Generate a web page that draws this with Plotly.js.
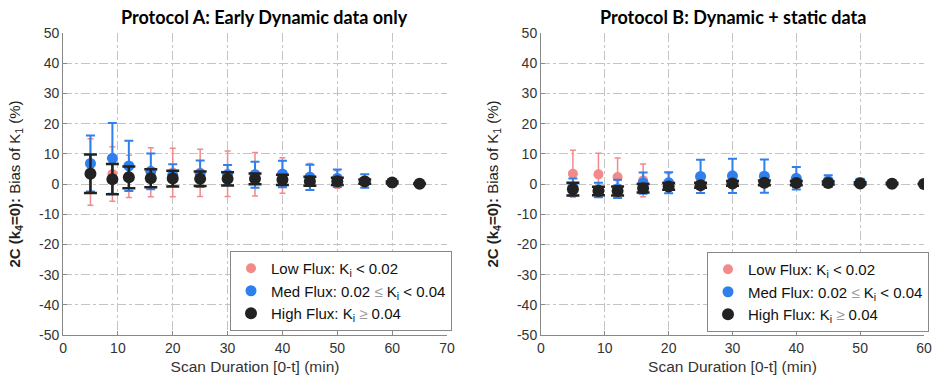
<!DOCTYPE html>
<html>
<head>
<meta charset="utf-8">
<script src="https://cdn.plot.ly/plotly-3.0.1.min.js"></script>
<style>html,body{margin:0;padding:0;background:#fff;}#chart{width:935px;height:386px;}</style>
</head>
<body>
<div id="chart"></div>
<script>
// ---- Data ----
const xA = [5, 9, 12, 16, 20, 25, 30, 35, 40, 45, 50, 55, 60, 65];
const lowA_mean = [4.0, 3.3, 2.5, 3.9, 3.8, 3.7, 3.4, 3.2, 2.8, 2.4, 1.5, 0.8, 0.4, 0.1];
const lowA_sd   = [11.0, 9.0, 7.0, 8.1, 8.0, 7.8, 7.5, 7.2, 5.9, 4.4, 2.9, 1.2, 0.5, 0.2];
const medA_mean = [6.8, 8.5, 6.0, 4.2, 2.9, 3.4, 3.0, 3.1, 3.3, 2.2, 1.9, 1.0, 0.5, 0.1];
const medA_sd   = [9.3, 11.7, 8.3, 5.9, 3.6, 4.4, 3.3, 4.3, 4.4, 4.2, 2.9, 2.2, 0.5, 0.2];
const highA_mean = [3.4, 1.6, 2.2, 1.9, 1.8, 1.7, 1.7, 1.7, 1.4, 0.9, 0.9, 0.8, 0.5, 0.1];
const highA_sd   = [6.4, 5.0, 3.6, 3.0, 2.6, 2.4, 2.2, 1.8, 1.7, 1.5, 1.2, 0.7, 0.3, 0.1];

const xB = [5, 9, 12, 16, 20, 25, 30, 35, 40, 45, 50, 55, 60];
const lowB_mean = [3.4, 3.2, 2.3, 1.2, 0.5, 0.5, 0.4, 0.4, 0.3, 0.2, 0.1, 0.1, 0.0];
const lowB_sd   = [7.8, 7.0, 6.3, 5.4, 3.0, 1.0, 0.8, 0.8, 0.6, 0.5, 0.3, 0.2, 0.1];
const medB_mean = [-1.0, -2.0, -1.6, 0.3, 0.4, 2.5, 2.7, 2.6, 1.9, 1.0, 0.5, 0.2, 0.0];
const medB_sd   = [2.8, 2.4, 3.0, 3.5, 3.5, 5.5, 5.7, 5.5, 3.7, 1.9, 1.2, 0.5, 0.1];
const highB_mean = [-1.7, -2.3, -2.3, -1.4, -0.8, -0.4, 0.2, 0.4, 0.3, 0.3, 0.2, 0.1, 0.0];
const highB_sd   = [2.1, 1.4, 1.5, 1.4, 1.1, 0.8, 0.8, 0.8, 0.7, 0.5, 0.4, 0.2, 0.0];

const seriesNames = [
  'Low Flux: K<sub>i</sub> < 0.02',
  'Med Flux: 0.02 <span style="color:#999">≤</span> K<sub>i</sub> < 0.04',
  'High Flux: K<sub>i</sub> <span style="color:#999">≥</span> 0.04'
];
const titles = ['Protocol A: Early Dynamic data only', 'Protocol B: Dynamic + static data'];
const yTickVals = [-50, -40, -30, -20, -10, 0, 10, 20, 30, 40, 50];
const yTickText = ['-50', '-40', '-30', '-20', '-10', '0', '10', '20', '30', '40', '50'];
const xTickValsA = [0, 10, 20, 30, 40, 50, 60, 70];
const xTickValsB = [0, 10, 20, 30, 40, 50, 60];

// ---- Styles ----
const styles = [
  {color: '#F28A8A', size: 10, thick: 1.5, cap: 3},
  {color: '#2F7FEF', size: 11, thick: 2, cap: 4.5},
  {color: '#222222', size: 12, thick: 2.5, cap: 6.5}
];

function mk(x, y, sd, i, ax, legend) {
  const s = styles[i];
  return {
    type: 'scatter', mode: 'markers', x: x, y: y,
    xaxis: ax[0], yaxis: ax[1], legend: legend,
    name: seriesNames[i], showlegend: true,
    marker: {color: s.color, size: s.size},
    error_y: {type: 'data', array: sd, visible: true, color: s.color, thickness: s.thick, width: s.cap}
  };
}

const data = [
  mk(xA, lowA_mean, lowA_sd, 0, ['x', 'y'], 'legend'),
  mk(xA, medA_mean, medA_sd, 1, ['x', 'y'], 'legend'),
  mk(xA, highA_mean, highA_sd, 2, ['x', 'y'], 'legend'),
  mk(xB, lowB_mean, lowB_sd, 0, ['x2', 'y2'], 'legend2'),
  mk(xB, medB_mean, medB_sd, 1, ['x2', 'y2'], 'legend2'),
  mk(xB, highB_mean, highB_sd, 2, ['x2', 'y2'], 'legend2')
];

const FONT = 'Liberation Sans, Arial, Helvetica, sans-serif';
const tickFont = {family: FONT, size: 14, color: '#333'};
const yTitle = '<b>2C (k<sub>4</sub>=0):</b> Bias of K<sub>1</sub> (%)';

function xAxis(domain, maxv, anchor, tv) {
  return {
    domain: domain, range: [0, maxv], anchor: anchor,
    tickmode: 'array', tickvals: tv, ticktext: tv.map(String),
    showgrid: true, gridcolor: '#c4c4c4', griddash: 'dashdot', gridwidth: 1,
    zeroline: false, showline: true, linecolor: '#888', linewidth: 1,
    ticks: 'inside', ticklen: 4, tickcolor: '#888',
    tickfont: tickFont,
    title: {text: 'Scan Duration [0-t] (min)', font: {family: FONT, size: 15.5, color: '#333'}, standoff: 6}
  };
}
function yAxis(anchor) {
  return {
    domain: [0.1321, 0.9145], range: [-50, 50], anchor: anchor,
    tickmode: 'array', tickvals: yTickVals, ticktext: yTickText,
    showgrid: true, gridcolor: '#c4c4c4', griddash: 'dashdot', gridwidth: 1,
    zeroline: false, showline: true, linecolor: '#888', linewidth: 1,
    ticks: 'inside', ticklen: 4, tickcolor: '#888',
    tickfont: tickFont,
    title: {text: yTitle, font: {family: FONT, size: 15, color: '#222'}, standoff: 14}
  };
}

const legendStyle = {
  bgcolor: '#ffffff', bordercolor: '#888', borderwidth: 1,
  font: {family: FONT, size: 15, color: '#111'},
  xanchor: 'left', yanchor: 'bottom', tracegroupgap: 0, itemwidth: 30
};

const layout = {
  width: 935, height: 386,
  margin: {l: 0, r: 0, t: 0, b: 0},
  paper_bgcolor: '#fff', plot_bgcolor: '#fff',
  showlegend: true,
  xaxis: xAxis([0.0674, 0.4781], 70, 'y', xTickValsA),
  yaxis: yAxis('x'),
  xaxis2: xAxis([0.5786, 0.9882], 60, 'y2', xTickValsB),
  yaxis2: yAxis('x2'),
  legend: Object.assign({x: 230 / 935, y: (386 - 331) / 386}, legendStyle),
  legend2: Object.assign({x: 707 / 935, y: (386 - 332) / 386}, legendStyle),
  annotations: [
    {text: '<b>' + titles[0] + '</b>', xref: 'paper', yref: 'paper', x: 264 / 935, y: 1 - 17 / 386,
     showarrow: false, xanchor: 'center', yanchor: 'middle', font: {family: 'Lato, Open Sans, sans-serif', size: 18, color: '#000'}},
    {text: '<b>' + titles[1] + '</b>', xref: 'paper', yref: 'paper', x: 733 / 935, y: 1 - 17 / 386,
     showarrow: false, xanchor: 'center', yanchor: 'middle', font: {family: 'Lato, Open Sans, sans-serif', size: 18, color: '#000'}}
  ]
};

Plotly.newPlot('chart', data, layout, {staticPlot: true, displayModeBar: false});
</script>
</body>
</html>
